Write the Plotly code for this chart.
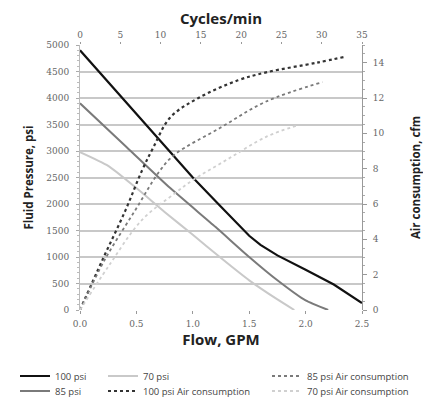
import plotly.graph_objects as go

# --- fluid pressure curves (flow in GPM, pressure in psi) ---
flow_100 = [0.0, 0.5, 1.0, 1.25, 1.5, 1.6, 1.75, 2.0, 2.25, 2.5]
psi_100 = [4900, 3700, 2500, 1950, 1400, 1230, 1030, 760, 480, 130]

flow_85 = [0.0, 0.4, 0.8, 1.2, 1.5, 1.75, 2.0, 2.2]
psi_85 = [3900, 3100, 2300, 1570, 1000, 560, 180, 0]

flow_70 = [0.0, 0.25, 0.5, 0.75, 1.0, 1.25, 1.5, 1.75, 1.9]
psi_70 = [2980, 2720, 2300, 1850, 1420, 980, 560, 200, 0]

# --- air consumption curves (flow in GPM, cfm) ---
air_flow_100 = [0.0, 0.2, 0.4, 0.55, 0.65, 0.8, 1.05, 1.4, 1.65, 2.1, 2.36]
air_cfm_100 = [0.0, 2.85, 5.6, 7.9, 9.2, 10.9, 12.0, 13.0, 13.45, 14.0, 14.35]

air_flow_85 = [0.0, 0.22, 0.49, 0.71, 0.84, 1.24, 1.65, 2.15]
air_cfm_85 = [0.0, 2.85, 5.65, 7.9, 8.8, 10.3, 11.8, 12.9]

air_flow_70 = [0.0, 0.25, 0.55, 0.84, 1.0, 1.3, 1.65, 1.93]
air_cfm_70 = [0.0, 2.45, 5.1, 6.6, 7.35, 8.5, 9.8, 10.45]

TICK_FONT = dict(family="DejaVu Serif", size=9, color="#666666")
H_TITLE_FONT = dict(family="Open Sans", size=15, color="#222222", weight="bold")
V_TITLE_FONT = dict(family="Open Sans", size=11.5, color="#222222", weight="bold")
LEG_FONT = dict(family="Open Sans", size=9.5, color="#444444")

fig = go.Figure()

# pressure lines
fig.add_trace(go.Scatter(x=flow_100, y=psi_100, mode="lines", name="100 psi",
                         line=dict(color="#111111", width=2.2), legend="legend"))
fig.add_trace(go.Scatter(x=flow_85, y=psi_85, mode="lines", name="85 psi",
                         line_shape="spline",
                         line=dict(color="#7a7a7a", width=2, smoothing=0.5), legend="legend2"))
fig.add_trace(go.Scatter(x=flow_70, y=psi_70, mode="lines", name="70 psi",
                         line_shape="spline",
                         line=dict(color="#c9c9c9", width=2, smoothing=0.6), legend="legend3"))

# air consumption (right axis)
fig.add_trace(go.Scatter(x=air_flow_100, y=air_cfm_100, mode="lines", yaxis="y2",
                         name="100 psi Air consumption", line_shape="spline",
                         line=dict(color="#333333", width=2.2, dash="dot"), legend="legend4"))
fig.add_trace(go.Scatter(x=air_flow_85, y=air_cfm_85, mode="lines", yaxis="y2",
                         name="85 psi Air consumption", line_shape="spline",
                         line=dict(color="#7a7a7a", width=1.8, dash="dot"), legend="legend5"))
fig.add_trace(go.Scatter(x=air_flow_70, y=air_cfm_70, mode="lines", yaxis="y2",
                         name="70 psi Air consumption", line_shape="spline",
                         line=dict(color="#d0d0d0", width=1.8, dash="dot"), legend="legend6"))

# empty trace so the top (cycles/min) axis is drawn
fig.add_trace(go.Scatter(x=[], y=[], xaxis="x2", yaxis="y", showlegend=False, hoverinfo="skip"))


def leg(x, y):
    return dict(x=x, y=y, xanchor="left", yanchor="middle", orientation="v",
                font=LEG_FONT, bgcolor="rgba(0,0,0,0)")


# page has an 8px body margin, so the figure is 423x391 and the plot area
# sits at 72..354 px (x) and 37..302 px (y) inside it
row1, row2 = (302 - 368) / 265, (302 - 383) / 265
col1, col2, col3 = (7 - 72) / 282, (95 - 72) / 282, (259 - 72) / 282

fig.update_layout(
    width=423,
    height=391,
    margin=dict(l=72, r=69, t=37, b=89, autoexpand=False),
    plot_bgcolor="white",
    paper_bgcolor="white",
    showlegend=True,
    xaxis=dict(
        range=[0, 2.5], dtick=0.5, tickformat=".1f", automargin=False,
        showgrid=False, zeroline=False,
        showline=False, ticks="outside", ticklen=3, tickcolor="#999999",
        ticklabelstandoff=2,
        tickfont=TICK_FONT,
        title=dict(text="Flow, GPM", font=H_TITLE_FONT, standoff=2),
    ),
    xaxis2=dict(
        range=[0, 35], dtick=5, overlaying="x", side="top", automargin=False,
        showgrid=False, zeroline=False, showline=False,
        ticks="outside", ticklen=2, tickcolor="#999999",
        ticklabelstandoff=0,
        tickfont=TICK_FONT,
        title=dict(text="Cycles/min", font=H_TITLE_FONT, standoff=4),
    ),
    yaxis=dict(
        range=[0, 5000], dtick=500, automargin=False,
        showgrid=True, gridcolor="#c8c8c8", gridwidth=1.8,
        zeroline=False, showline=True, linecolor="#bbbbbb",
        ticks="outside", ticklen=3, tickcolor="#aaaaaa",
        minor=dict(dtick=100, ticks="outside", ticklen=2, tickcolor="#bbbbbb"),
        ticklabelstandoff=5,
        tickfont=TICK_FONT,
        title=dict(text="Fluid Pressure, psi", font=V_TITLE_FONT, standoff=10),
    ),
    yaxis2=dict(
        range=[0, 15], dtick=2, overlaying="y", side="right", automargin=False,
        showgrid=False, zeroline=False, showline=True, linecolor="#999999",
        ticks="outside", ticklen=4, tickcolor="#999999",
        minor=dict(dtick=0.5, ticks="outside", ticklen=2, tickcolor="#aaaaaa"),
        ticklabelstandoff=4,
        tickfont=TICK_FONT,
        title=dict(text="Air consumption, cfm", font=V_TITLE_FONT, standoff=28),
    ),
    legend=leg(col1, row1),
    legend2=leg(col1, row2),
    legend3=leg(col2, row1),
    legend4=leg(col2, row2),
    legend5=leg(col3, row1),
    legend6=leg(col3, row2),
)

fig.write_html("out.html")
